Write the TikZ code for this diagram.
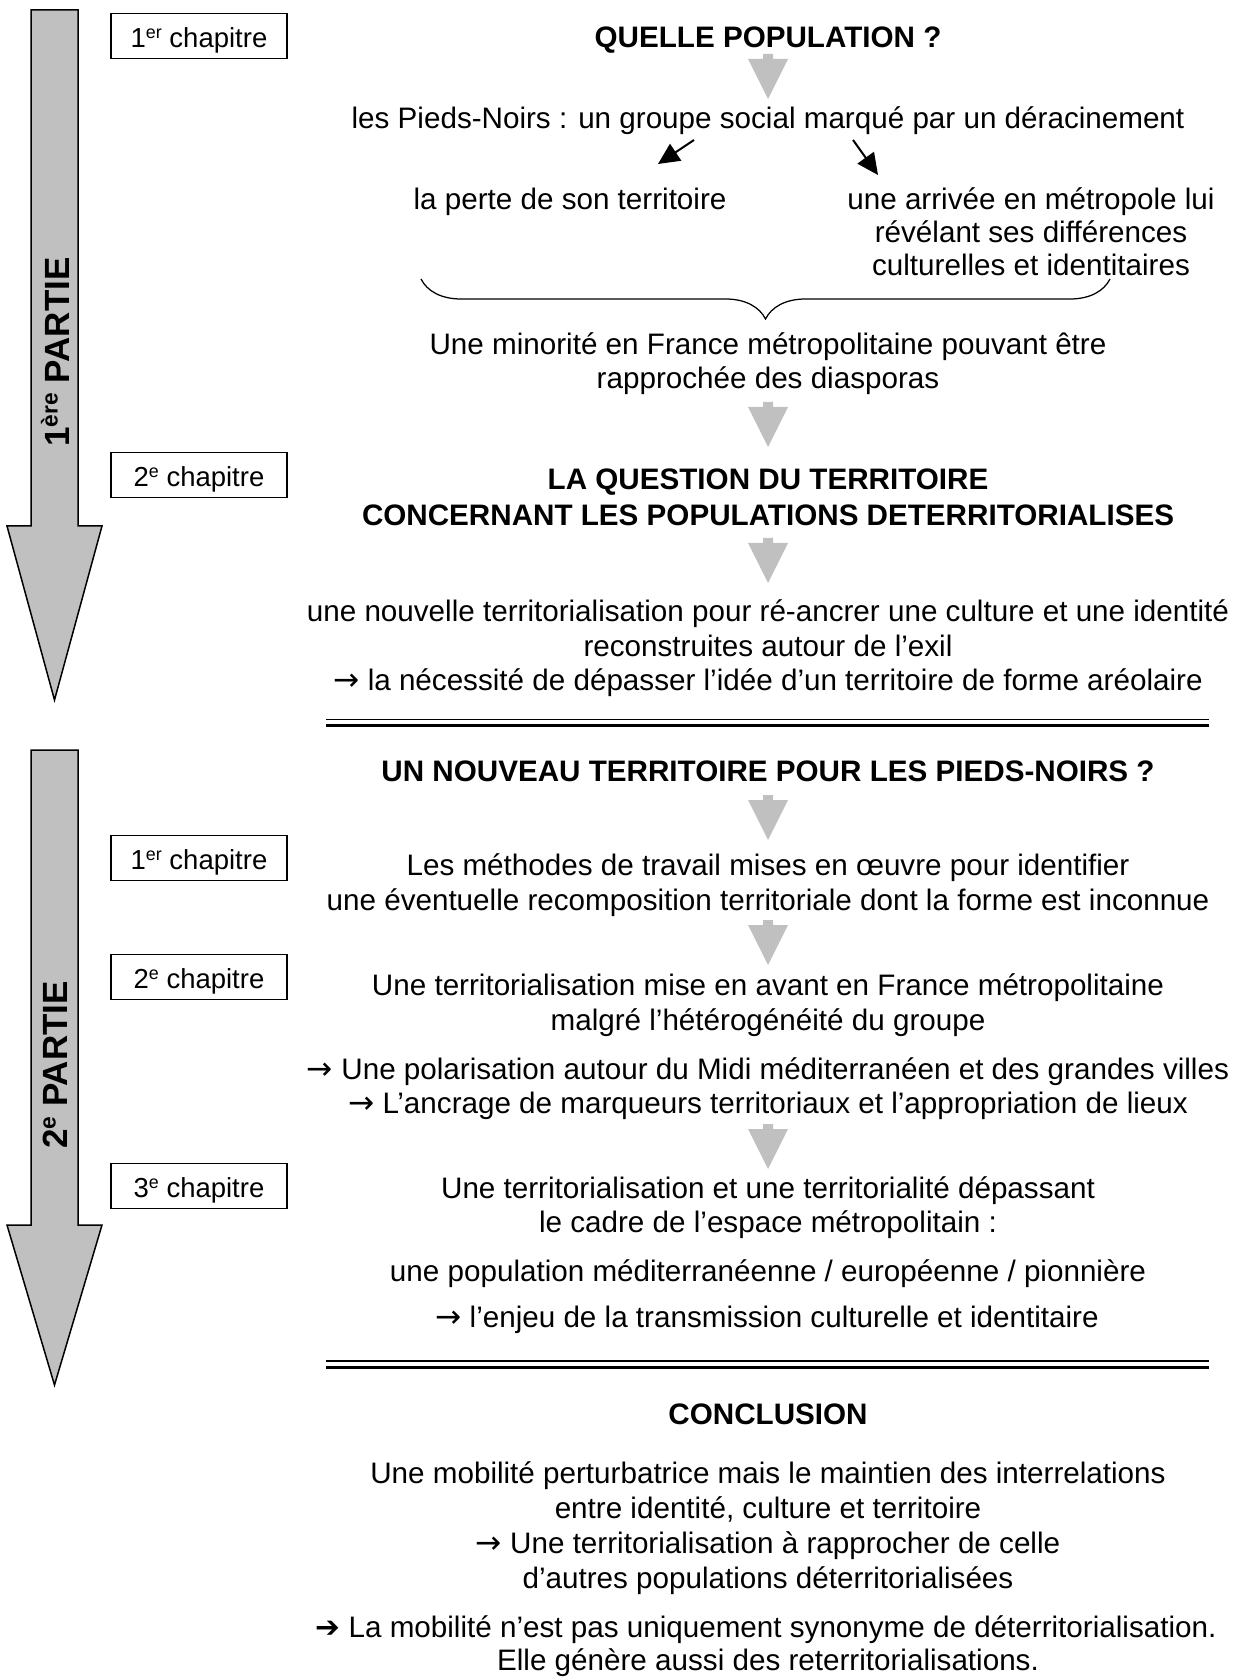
\documentclass[tikz,border=0pt]{standalone}
\usepackage{fontspec}
\setmainfont{Liberation Sans}
\newfontfamily\symfont{DejaVu Sans}
\usetikzlibrary{arrows.meta,decorations.pathreplacing}
\definecolor{arrowgray}{HTML}{C0C0C0}
\definecolor{partgray}{HTML}{C0C0C0}
\newcommand\myexp[1]{\raisebox{0.33em}{\scalebox{0.65}{#1}}}
\newcommand\myarr{{\symfont\fontsize{12.5}{13.8}\selectfont →}}
\begin{document}
\begin{tikzpicture}[x=0.4pt,y=-0.4pt,
  txt/.style={anchor=base,inner sep=0pt,font=\fontsize{11.85}{13.8}\selectfont},
  headtxt/.style={anchor=base,inner sep=0pt,font=\fontsize{11.85}{13.8}\selectfont\bfseries},
  chap/.style={draw,line width=0.5pt,minimum width=70.4pt,minimum height=17.8pt,inner sep=0pt,
    text height=9.6pt,text depth=0.2pt,font=\fontsize{11}{13}\selectfont},
  partarrow/.style={fill=partgray,draw=black,line width=0.6pt,line join=miter},
  partlabel/.style={rotate=90,inner sep=0pt,font=\fontsize{14}{16}\selectfont\bfseries},
  garrow/.pic={\fill[arrowgray] (-5,0)--(5,0)--(5,5)--(20,5)--(0,45)--(-20,5)--(-5,5)--cycle;},
  smallarr/.style={-{Triangle[length=8.5pt,width=8pt]},line width=0.8pt},
  thinrule/.style={line width=0.55pt},
  thickrule/.style={line width=1.2pt}
]
\useasboundingbox (0,0) rectangle (1237,1677);

% big part arrows
\draw[partarrow] (31,10)--(78,10)--(78,526)--(102,526)--(54.5,700)--(7,526)--(31,526)--cycle;
\node[partlabel] (p1) at (55,352) {1\myexp{ère} PARTIE};
\draw[partarrow] (31,750)--(78,750)--(78,1225)--(102,1225)--(54.5,1385)--(7,1225)--(31,1225)--cycle;
\node[partlabel] (p2) at (55,1065) {2\myexp{e} PARTIE};

% chapter boxes
\node[chap] (ch1) at (199,36) {1\myexp{er} chapitre};
\node[chap] (ch2) at (199,475) {2\myexp{e} chapitre};
\node[chap] (ch3) at (199,858) {1\myexp{er} chapitre};
\node[chap] (ch4) at (199,977) {2\myexp{e} chapitre};
\node[chap] (ch5) at (199,1186) {3\myexp{e} chapitre};

% part 1
\node[headtxt] (q1) at (768,48) {QUELLE POPULATION ?};
\pic at (768,54) {garrow};
\node[txt] (pn) at (768,129) {les Pieds-Noirs : un groupe social marqué par un déracinement};
\coordinate (la) at (694,140);
\coordinate (lb) at (658,164);
\coordinate (ra) at (853,140);
\coordinate (rb) at (878,175);
\draw[smallarr] (la) -- (lb);
\draw[smallarr] (ra) -- (rb);
\node[txt] (perte) at (570,210) {la perte de son territoire};
\node[txt] (arr1) at (1031,210) {une arrivée en métropole lui};
\node[txt] (arr2) at (1031,243) {révélant ses différences};
\node[txt] (arr3) at (1031,276) {culturelles et identitaires};
\coordinate (bl) at (421,279);
\coordinate (br) at (1110,279);
\draw[line width=0.5pt,decorate,decoration={brace,mirror,amplitude=16pt}] (bl) -- (br);
\node[txt] (min1) at (768,355) {Une minorité en France métropolitaine pouvant être};
\node[txt] (min2) at (768,389) {rapprochée des diasporas};
\pic at (768,402) {garrow};
\node[headtxt] (t1) at (768,490) {LA QUESTION DU TERRITOIRE};
\node[headtxt] (t2) at (768,526) {CONCERNANT LES POPULATIONS DETERRITORIALISES};
\pic at (768,538) {garrow};
\node[txt] (n1) at (768,621) {une nouvelle territorialisation pour ré-ancrer une culture et une identité};
\node[txt] (n2) at (768,656) {reconstruites autour de l’exil};
\node[txt] (n3) at (768,690) {\myarr{} la nécessité de dépasser l’idée d’un territoire de forme aréolaire};
\draw[thinrule] (326,719.5) -- (1209,719.5);
\draw[thickrule] (326,725.5) -- (1209,725.5);

% part 2
\node[headtxt] (u1) at (768,781) {UN NOUVEAU TERRITOIRE POUR LES PIEDS-NOIRS ?};
\pic at (768,795) {garrow};
\node[txt] (m1) at (768,875) {Les méthodes de travail mises en œuvre pour identifier};
\node[txt] (m2) at (768,910) {une éventuelle recomposition territoriale dont la forme est inconnue};
\pic at (768,920) {garrow};
\node[txt] (r1) at (768,995) {Une territorialisation mise en avant en France métropolitaine};
\node[txt] (r2) at (768,1030) {malgré l’hétérogénéité du groupe};
\node[txt] (r3) at (768,1079) {\myarr{} Une polarisation autour du Midi méditerranéen et des grandes villes};
\node[txt] (r4) at (768,1113) {\myarr{} L’ancrage de marqueurs territoriaux et l’appropriation de lieux};
\pic at (768,1124) {garrow};
\node[txt] (d1) at (768,1198) {Une territorialisation et une territorialité dépassant};
\node[txt] (d2) at (768,1232) {le cadre de l’espace métropolitain :};
\node[txt] (d3) at (768,1281) {une population méditerranéenne / européenne / pionnière};
\node[txt] (d4) at (767,1327) {\myarr{} l’enjeu de la transmission culturelle et identitaire};
\draw[thinrule] (326,1361) -- (1209,1361);
\draw[thickrule] (326,1367.5) -- (1209,1367.5);

% conclusion
\node[headtxt] (c0) at (768,1424) {CONCLUSION};
\node[txt] (c1) at (768,1483) {Une mobilité perturbatrice mais le maintien des interrelations};
\node[txt] (c2) at (768,1518) {entre identité, culture et territoire};
\node[txt] (c3) at (768,1553) {\myarr{} Une territorialisation à rapprocher de celle};
\node[txt] (c4) at (768,1588) {d’autres populations déterritorialisées};
\node[txt] (c5) at (766,1637) {{\symfont ➔} La mobilité n’est pas uniquement synonyme de déterritorialisation.};
\node[txt] (c6) at (768,1670) {Elle génère aussi des reterritorialisations.};
\end{tikzpicture}
\end{document}
